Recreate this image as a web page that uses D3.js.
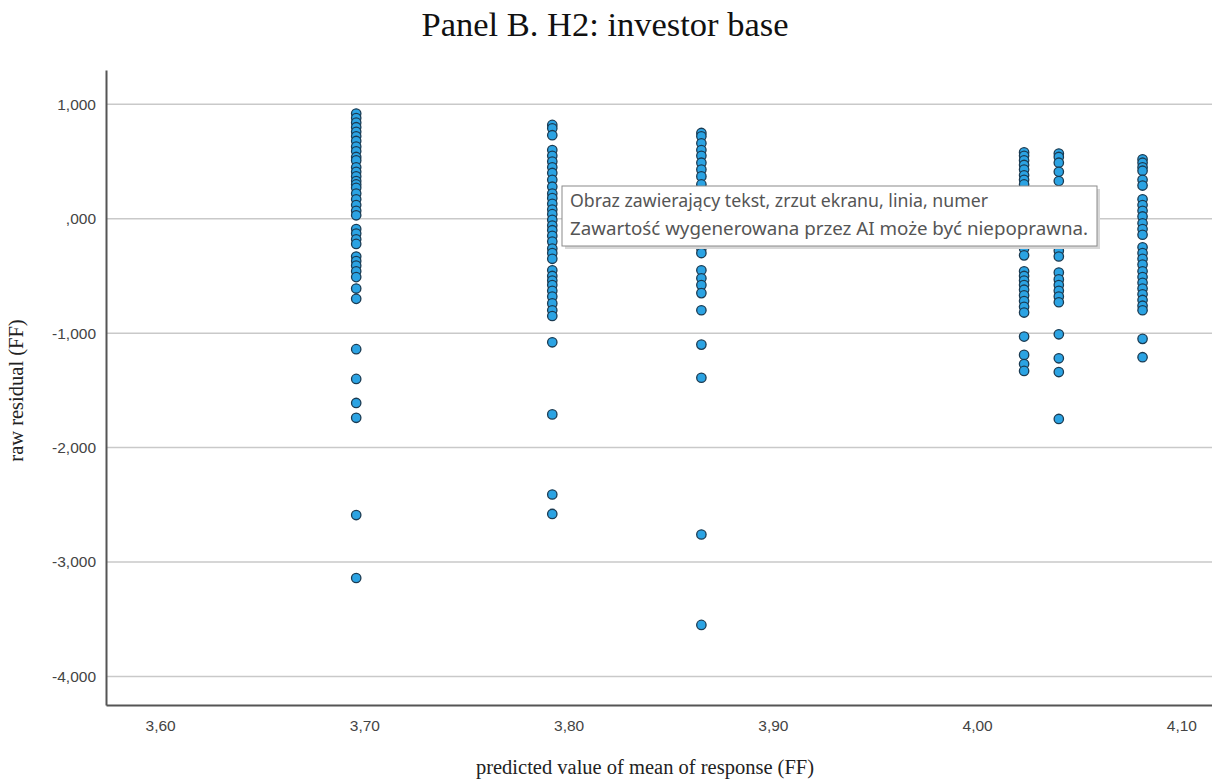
<!DOCTYPE html>
<html>
<head>
<meta charset="utf-8">
<script src="https://cdn.jsdelivr.net/npm/d3@7"></script>
<style>
  body { margin: 0; background: #fff; }
  #chart { width: 1212px; height: 779px; }
</style>
</head>
<body>
<div id="chart"></div>
<script>
const width = 1212;
const height = 779;

// predicted value (x) of each vertical group of residuals
const predicted = [3.696, 3.792, 3.865, 4.023, 4.040, 4.081];

const residuals370 = [0.92, 0.88, 0.84, 0.80, 0.76, 0.72, 0.68, 0.63, 0.59, 0.54, 0.51, 0.45, 0.41, 0.37, 0.33, 0.30, 0.27, 0.22, 0.17, 0.12, 0.07, 0.03, -0.09, -0.13, -0.18, -0.22, -0.33, -0.37, -0.41, -0.46, -0.51, -0.61, -0.70, -1.14, -1.40, -1.61, -1.74, -2.59, -3.14];
const residuals379 = [0.82, 0.79, 0.73, 0.60, 0.55, 0.50, 0.45, 0.40, 0.34, 0.28, 0.22, 0.18, 0.13, 0.08, 0.04, -0.01, -0.06, -0.10, -0.15, -0.20, -0.26, -0.30, -0.35, -0.45, -0.50, -0.54, -0.58, -0.63, -0.68, -0.74, -0.80, -0.85, -1.08, -1.71, -2.41, -2.58];
const residuals387 = [0.75, 0.72, 0.66, 0.60, 0.55, 0.49, 0.43, 0.37, 0.30, 0.15, 0.02, -0.10, -0.26, -0.30, -0.45, -0.52, -0.58, -0.65, -0.80, -1.10, -1.39, -2.76, -3.55];
const residuals402 = [0.58, 0.55, 0.51, 0.47, 0.43, 0.38, 0.34, 0.30, 0.10, -0.10, -0.26, -0.32, -0.46, -0.50, -0.54, -0.58, -0.62, -0.67, -0.72, -0.77, -0.82, -1.03, -1.19, -1.27, -1.33];
const residuals404 = [0.57, 0.54, 0.49, 0.41, 0.33, 0.10, -0.10, -0.28, -0.33, -0.47, -0.53, -0.58, -0.63, -0.68, -0.73, -1.01, -1.22, -1.34, -1.75];
const residuals408 = [0.52, 0.49, 0.45, 0.42, 0.34, 0.29, 0.17, 0.12, 0.07, 0.02, -0.04, -0.09, -0.14, -0.25, -0.30, -0.35, -0.40, -0.46, -0.51, -0.56, -0.61, -0.66, -0.71, -0.76, -0.80, -1.05, -1.21];

const xTicks = [3.60, 3.70, 3.80, 3.90, 4.00, 4.10];
const yTicks = [1, 0, -1, -2, -3, -4];

const residualGroups = [residuals370, residuals379, residuals387, residuals402, residuals404, residuals408];
const points = residualGroups.flatMap((g, i) => g.map(r => ({ x: predicted[i], y: r })));

const margin = { top: 70, right: 0, bottom: 74, left: 106 };

const svg = d3.select('#chart')
  .append('svg')
  .attr('width', width)
  .attr('height', height);

const x = d3.scaleLinear()
  .domain([3.5735, 4.115])
  .range([margin.left, width - margin.right]);

const y = d3.scaleLinear()
  .domain([-4.25, 1.30])
  .range([height - margin.bottom, margin.top]);

// SPSS style: comma decimals, plain hyphen, no leading zero
const fmtY = v => v.toFixed(3).replace('.', ',').replace(/^0,/, ',');
const fmtX = v => v.toFixed(2).replace('.', ',');

// title
svg.append('text')
  .attr('x', 605)
  .attr('y', 36)
  .attr('text-anchor', 'middle')
  .attr('font-family', '"Liberation Serif", "DejaVu Serif", serif')
  .attr('font-size', '34.5px')
  .attr('fill', '#111')
  .text('Panel B. H2: investor base');

// grid lines
svg.append('g')
  .selectAll('line')
  .data(yTicks)
  .enter()
  .append('line')
  .attr('x1', margin.left)
  .attr('x2', width - margin.right)
  .attr('y1', d => y(d))
  .attr('y2', d => y(d))
  .attr('stroke', '#c9c9c9')
  .attr('stroke-width', 1.5);

// y axis
const yAxis = svg.append('g')
  .attr('transform', `translate(${margin.left},0)`)
  .call(d3.axisLeft(y).tickValues(yTicks).tickFormat(fmtY).tickSize(0).tickPadding(10));
yAxis.select('.domain').attr('stroke', '#555').attr('stroke-width', 2);
yAxis.selectAll('text')
  .attr('font-family', '"Liberation Sans", Arial, sans-serif')
  .attr('font-size', '15.5px')
  .attr('fill', '#444');

// x axis
const xAxis = svg.append('g')
  .attr('transform', `translate(0,${height - margin.bottom})`)
  .call(d3.axisBottom(x).tickValues(xTicks).tickFormat(fmtX).tickSize(0).tickPadding(15));
xAxis.select('.domain').attr('stroke', '#555').attr('stroke-width', 2);
xAxis.selectAll('text')
  .attr('font-family', '"Liberation Sans", Arial, sans-serif')
  .attr('font-size', '15.5px')
  .attr('fill', '#444');

// axis titles
svg.append('text')
  .attr('transform', `translate(23,${(margin.top + height - margin.bottom) / 2 + 3}) rotate(-90)`)
  .attr('text-anchor', 'middle')
  .attr('font-family', '"Liberation Serif", "DejaVu Serif", serif')
  .attr('font-size', '20.5px')
  .attr('fill', '#222')
  .text('raw residual (FF)');

svg.append('text')
  .attr('x', 645)
  .attr('y', 774)
  .attr('text-anchor', 'middle')
  .attr('font-family', '"Liberation Serif", "DejaVu Serif", serif')
  .attr('font-size', '20.5px')
  .attr('fill', '#222')
  .text('predicted value of mean of response (FF)');

// points
svg.append('g')
  .selectAll('circle')
  .data(points)
  .enter()
  .append('circle')
  .attr('cx', d => x(d.x))
  .attr('cy', d => y(d.y))
  .attr('r', 4.7)
  .attr('fill', '#2ba3e3')
  .attr('stroke', '#1b3b52')
  .attr('stroke-width', 1.3);

// overlay tooltip from the screenshot
const tip = svg.append('g').attr('transform', 'translate(562,186)');
tip.append('rect')
  .attr('x', 3).attr('y', 3)
  .attr('width', 535).attr('height', 60)
  .attr('fill', '#d8d8d8');
tip.append('rect')
  .attr('width', 535).attr('height', 60)
  .attr('fill', '#fff')
  .attr('stroke', '#8a8a8a')
  .attr('stroke-width', 1);
tip.selectAll('text')
  .data(['Obraz zawierający tekst, zrzut ekranu, linia, numer', 'Zawartość wygenerowana przez AI może być niepoprawna.'])
  .enter()
  .append('text')
  .attr('x', 8)
  .attr('y', (d, i) => 21 + i * 28)
  .attr('font-family', '"Noto Sans", "Open Sans", sans-serif')
  .attr('font-size', '18px')
  .attr('fill', '#555')
  .attr('textLength', (d, i) => i === 0 ? 418 : 518)
  .attr('lengthAdjust', 'spacingAndGlyphs')
  .text(d => d);
</script>
</body>
</html>
